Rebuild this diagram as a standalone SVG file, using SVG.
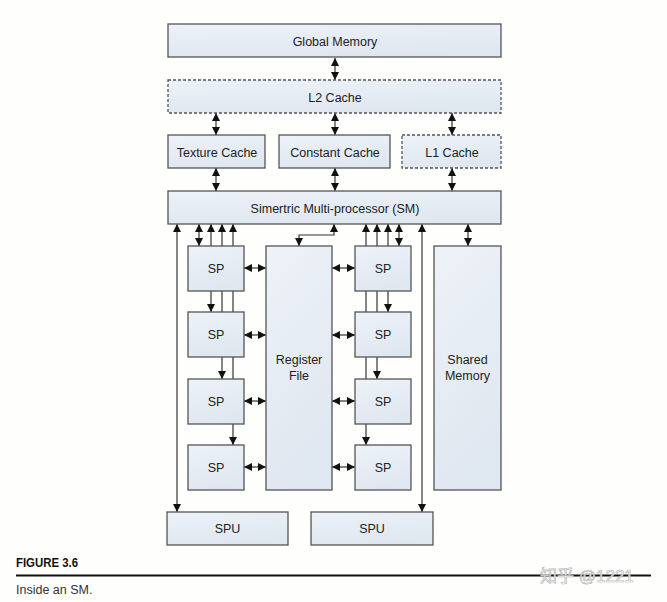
<svg xmlns="http://www.w3.org/2000/svg" width="667" height="602" viewBox="0 0 667 602">
  <defs>
    <linearGradient id="boxfill" x1="0" y1="0" x2="0.3" y2="1">
      <stop offset="0" stop-color="#eef2f8"/>
      <stop offset="1" stop-color="#dfe7f0"/>
    </linearGradient>
    <marker id="ah" viewBox="0 0 10 10" refX="10" refY="5" markerWidth="8" markerHeight="8" markerUnits="userSpaceOnUse" orient="auto-start-reverse">
      <path d="M0,0 L10,5 L0,10 Z" fill="#111"/>
    </marker>
  </defs>
  <style>
    .box { fill: url(#boxfill); stroke: #555; stroke-width: 1.3; }
    .dash { stroke-dasharray: 3 2; }
    .lbl { font-family: "Liberation Sans", Arial, sans-serif; font-size: 12.5px; fill: #222; text-anchor: middle; }
    .c { fill: none; stroke: #333; stroke-width: 1.2; }
    .bi { marker-start: url(#ah); marker-end: url(#ah); }
    .one { marker-end: url(#ah); }
  </style>
  <rect width="667" height="602" fill="#fefefd"/>

  <g id="connectors">
    <line class="c bi" x1="335" y1="58" x2="335" y2="80"/>
    <line class="c bi" x1="216" y1="113" x2="216" y2="135"/>
    <line class="c bi" x1="335" y1="113" x2="335" y2="135"/>
    <line class="c bi" x1="452" y1="113" x2="452" y2="135"/>
    <line class="c bi" x1="216" y1="168" x2="216" y2="191"/>
    <line class="c bi" x1="335" y1="168" x2="335" y2="191"/>
    <line class="c bi" x1="452" y1="168" x2="452" y2="191"/>
    <line class="c bi" x1="177" y1="224" x2="177" y2="512"/>
    <line class="c bi" x1="422" y1="224" x2="422" y2="512"/>
    <line class="c bi" x1="199" y1="224" x2="199" y2="246"/>
    <line class="c bi" x1="211" y1="224" x2="211" y2="312"/>
    <line class="c bi" x1="222" y1="224" x2="222" y2="379"/>
    <line class="c bi" x1="233" y1="224" x2="233" y2="445"/>
    <line class="c bi" x1="399" y1="224" x2="399" y2="246"/>
    <line class="c bi" x1="388" y1="224" x2="388" y2="312"/>
    <line class="c bi" x1="377" y1="224" x2="377" y2="379"/>
    <line class="c bi" x1="366" y1="224" x2="366" y2="445"/>
    <path class="c bi" d="M334,224 V235 H299 V246"/>
    <line class="c bi" x1="468" y1="224" x2="468" y2="246"/>
    <line class="c bi" x1="244" y1="268" x2="266" y2="268"/>
    <line class="c bi" x1="244" y1="335" x2="266" y2="335"/>
    <line class="c bi" x1="244" y1="401" x2="266" y2="401"/>
    <line class="c bi" x1="244" y1="467" x2="266" y2="467"/>
    <line class="c bi" x1="332" y1="268" x2="355" y2="268"/>
    <line class="c bi" x1="332" y1="335" x2="355" y2="335"/>
    <line class="c bi" x1="332" y1="401" x2="355" y2="401"/>
    <line class="c bi" x1="332" y1="467" x2="355" y2="467"/>
  </g>

  <g id="global-memory"><rect class="box" x="168" y="24" width="333" height="33"/><text class="lbl" x="335" y="45.5">Global Memory</text></g>
  <g id="l2-cache"><rect class="box dash" x="168" y="80" width="333" height="33"/><text class="lbl" x="335" y="101.5">L2 Cache</text></g>
  <g id="texture-cache"><rect class="box" x="168" y="135" width="97" height="33"/><text class="lbl" x="217" y="156.5">Texture Cache</text></g>
  <g id="constant-cache"><rect class="box" x="279" y="135" width="111" height="33"/><text class="lbl" x="335" y="156.5">Constant Cache</text></g>
  <g id="l1-cache"><rect class="box dash" x="402" y="135" width="99" height="33"/><text class="lbl" x="452" y="156.5">L1 Cache</text></g>
  <g id="sm"><rect class="box" x="168" y="191" width="333" height="33"/><text class="lbl" x="335" y="212.5">Simertric Multi-processor (SM)</text></g>

  <g id="sp-l1"><rect class="box" x="188" y="246" width="56" height="45"/><text class="lbl" x="216" y="272.5">SP</text></g>
  <g id="sp-l2"><rect class="box" x="188" y="312" width="56" height="45"/><text class="lbl" x="216" y="339">SP</text></g>
  <g id="sp-l3"><rect class="box" x="188" y="379" width="56" height="45"/><text class="lbl" x="216" y="405.5">SP</text></g>
  <g id="sp-l4"><rect class="box" x="188" y="445" width="56" height="45"/><text class="lbl" x="216" y="471.5">SP</text></g>

  <g id="sp-r1"><rect class="box" x="355" y="246" width="56" height="45"/><text class="lbl" x="383" y="272.5">SP</text></g>
  <g id="sp-r2"><rect class="box" x="355" y="312" width="56" height="45"/><text class="lbl" x="383" y="339">SP</text></g>
  <g id="sp-r3"><rect class="box" x="355" y="379" width="56" height="45"/><text class="lbl" x="383" y="405.5">SP</text></g>
  <g id="sp-r4"><rect class="box" x="355" y="445" width="56" height="45"/><text class="lbl" x="383" y="471.5">SP</text></g>

  <g id="register-file"><rect class="box" x="266" y="246" width="66" height="244"/><text class="lbl" x="299" y="364">Register</text><text class="lbl" x="299" y="380">File</text></g>
  <g id="shared-memory"><rect class="box" x="434" y="246" width="67" height="244"/><text class="lbl" x="467.5" y="364">Shared</text><text class="lbl" x="467.5" y="380">Memory</text></g>

  <g id="spu-1"><rect class="box" x="167" y="512" width="121" height="33"/><text class="lbl" x="227.5" y="533">SPU</text></g>
  <g id="spu-2"><rect class="box" x="311" y="512" width="122" height="33"/><text class="lbl" x="372" y="533">SPU</text></g>

  <g id="caption">
    <text x="16" y="567" font-family="'Liberation Sans', Arial, sans-serif" font-weight="bold" font-size="12" fill="#111" textLength="62" lengthAdjust="spacingAndGlyphs">FIGURE 3.6</text>
    <line x1="16" y1="575.5" x2="651" y2="575.5" stroke="#111" stroke-width="2"/>
    <text x="16" y="594" font-family="'Liberation Sans', Arial, sans-serif" font-size="12.5" fill="#333">Inside an SM.</text>
    <text x="540" y="582" font-family="'Liberation Sans', 'Noto Sans CJK SC', sans-serif" font-size="17" fill="#ffffff" fill-opacity="0.85" stroke="#b8b8b8" stroke-width="0.7">知乎 @1221</text>
  </g>
</svg>
